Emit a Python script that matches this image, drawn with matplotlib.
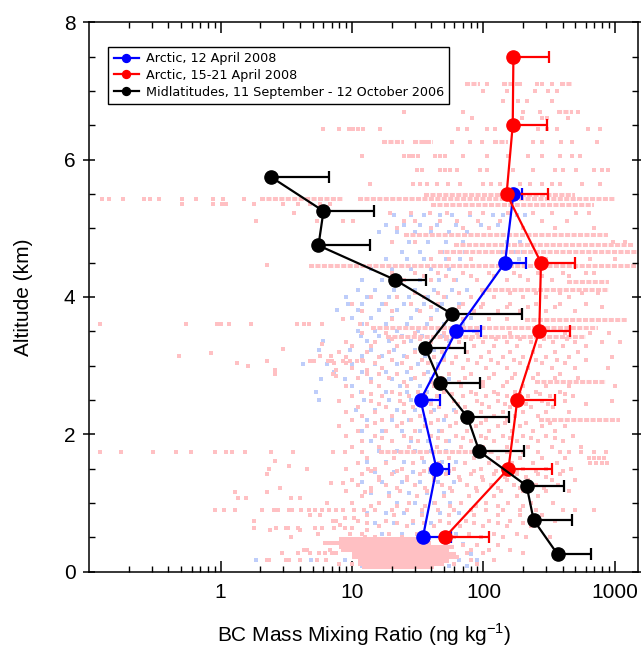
import numpy as np
import matplotlib
matplotlib.use("Agg")
import matplotlib.pyplot as plt
from matplotlib.ticker import LogLocator, NullFormatter, FixedLocator, MultipleLocator

# === Profile data =================================================
# Arctic, 12 April 2008
apr12_alt = [0.5, 1.5, 2.5, 3.5, 4.5, 5.5]
apr12_bc = [34.6, 43.9, 33.2, 62, 146, 169]
apr12_hi = [56.5, 55, 46.8, 96, 211, 196]

# Arctic, 15-21 April 2008
apr15_alt = [0.5, 1.5, 2.5, 3.5, 4.5, 5.5, 6.5, 7.5]
apr15_bc = [50.9, 155, 181, 266, 274, 150, 167, 169]
apr15_hi = [111, 332, 350, 455, 496, 310, 303, 315]

# Midlatitudes, 11 September - 12 October 2006
midlat_alt = [0.25, 0.75, 1.25, 1.75, 2.25, 2.75, 3.25, 3.75, 4.25, 4.75, 5.25, 5.75]
midlat_bc = [367, 241, 213, 93, 75.5, 46.8, 36.2, 57.8, 21.2, 5.55, 6.06, 2.4]
midlat_hi = [653, 473, 409, 202, 156, 94, 72.5, 195, 36.6, 13.8, 14.6, 6.68]

labels = ["Arctic, 12 April 2008",
          "Arctic, 15-21 April 2008",
          "Midlatitudes, 11 September - 12 October 2006"]

# === Background 1-s samples (pink = 15-21 April, blue = 12 April) ===
# constant-altitude legs that show up as dense streaks
leg_alt = [7.10, 7.10, 7.10, 6.70, 6.25, 6.25, 6.25, 5.49, 5.42, 5.42, 5.34,
           4.90, 4.75, 4.65, 4.45, 4.22, 4.10, 3.67, 3.55, 3.42, 2.76, 2.20,
           1.74, 0.48, 0.42, 0.36, 0.31, 0.26, 0.21, 0.16, 0.11, 0.06]
leg_lo = [72, 139, 380, 360, 17, 29, 118, 35, 2.0, 11, 40,
          25, 60, 45, 4.7, 430, 94, 208, 14, 18, 245, 265,
          16, 8, 6, 8, 9, 10, 10, 11, 11, 12]
leg_hi = [94, 165, 470, 480, 25, 41, 154, 500, 8.5, 1000, 700,
          880, 1400, 1500, 1450, 900, 900, 1240, 750, 600, 860, 1090,
          120, 35, 40, 60, 55, 62, 65, 55, 50, 42]

pink_rows = [
    (7.10, [106, 180, 190, 256, 280, 330]),
    (7.00, [99, 150, 245, 310, 360]),
    (6.85, [141, 184, 214, 330]),
    (6.70, [25, 70, 200, 270, 520]),
    (6.60, [82, 195, 280, 305, 440]),
    (6.45, [6.0, 7.9, 9.4, 10.2, 11.1, 12.2, 16.4, 64, 75, 106, 122, 260, 305, 360, 620, 770]),
    (6.25, [35, 58, 79, 98, 240, 280, 390, 470, 730]),
    (6.05, [12, 25, 27, 29, 32, 43, 47, 51, 70, 106, 154, 218, 280, 380, 475, 540]),
    (5.85, [31, 34, 47, 51, 56, 63, 94, 106, 168, 240, 350, 400, 510, 700, 800, 880]),
    (5.65, [13.8, 29, 33, 37, 44, 54, 66, 99, 115, 134, 190, 225, 280, 335, 380, 560, 770]),
    (5.42, [0.126, 0.141, 0.179, 0.26, 0.288, 0.338, 0.51, 0.646, 0.87, 1.05, 1.5]),
    (5.35, [0.51, 0.88, 1.02, 1.1, 1.78, 3.0, 3.85, 4.8, 5.75, 6.8]),
    (5.22, [3.6, 19.5, 28, 39, 53, 79, 99, 154, 240, 330, 510, 640]),
    (5.10, [1.85, 5.4, 8.6, 10.2, 25, 30, 47, 63, 91, 134, 280, 430]),
    (5.00, [22, 40, 70, 110, 200, 350, 700]),
    (4.80, [20, 30, 960, 1200]),
    (4.55, [40, 55, 80, 150, 300, 650, 1000]),
    (4.46, [2.24]),
    (4.35, [20, 30, 45, 70, 110, 170, 260, 400, 600, 700]),
    (4.30, [35, 52, 80, 120, 190, 280, 450]),
    (4.25, [25, 40, 60, 90, 150, 220, 330]),
    (4.05, [30, 45, 65, 100, 160, 250, 380, 560, 750]),
    (4.00, [14, 22, 35, 50, 80, 120, 200, 300, 450]),
    (3.90, [10, 18, 28, 45, 70, 100, 160, 250, 380, 600]),
    (3.85, [40, 65, 95, 150, 220, 350, 800]),
    (3.80, [12, 20, 33, 55, 85, 130, 190, 300, 500]),
    (3.68, [8.6, 20, 40, 70, 110, 150]),
    (3.60, [0.12, 0.54, 0.94, 1.0, 1.16, 1.69, 3.82, 4.27, 4.66, 5.9, 11.5, 13]),
    (3.48, [12, 18, 30, 50, 90, 160, 260, 420, 650, 900]),
    (3.38, [20, 33, 52, 80, 125, 190, 290, 430]),
    (3.35, [9, 15, 25, 40, 65, 100, 150, 230, 340, 500, 800, 1100]),
    (3.31, [5.9]),
    (3.28, [10, 14, 22, 35, 55, 85, 120, 180, 270, 400, 600]),
    (3.24, [3.0]),
    (3.20, [8, 13, 19, 30, 48, 75, 110, 160, 240, 350, 520]),
    (3.18, [0.85]),
    (3.14, [0.48, 5.75, 6.9]),
    (3.12, [9, 16, 26, 42, 62, 95, 140, 200, 300, 450, 950]),
    (3.08, [12, 20, 34, 50, 76, 115, 170, 250, 360, 600]),
    (3.06, [2.26, 4.8, 5.1, 6.6, 7.0, 8.6, 9.7, 10.9, 12.2]),
    (3.04, [1.34, 7.3, 9.0, 15, 24, 38, 58, 90, 130, 190, 280, 420]),
    (2.99, [1.62]),
    (2.96, [10, 17, 28, 45, 70, 105, 150, 220, 330, 500, 880]),
    (2.93, [2.6, 7.5, 13]),
    (2.88, [2.6, 7.1, 13, 16, 22, 35, 55, 80, 120, 175, 260, 380]),
    (2.85, [7.6]),
    (2.82, [11, 19, 30, 48, 72, 110, 165, 240, 350, 520]),
    (2.76, [14, 25, 40, 65, 100, 150]),
    (2.70, [9, 16, 26, 42, 68, 100, 140, 200, 300, 450, 1000]),
    (2.62, [12, 20, 32, 50, 80, 120, 175, 250, 380]),
    (2.58, [14, 23, 36, 58, 88, 130, 190, 270, 420]),
    (2.55, [10, 17, 27, 44, 70, 105, 150, 220, 320, 480]),
    (2.48, [8, 14, 23, 37, 60, 90, 130, 190, 280, 420, 950]),
    (2.44, [16, 25, 40, 64, 98, 145, 210, 310, 600]),
    (2.40, [11, 18, 29, 46, 72, 110, 160, 230, 340]),
    (2.33, [9, 15, 25, 40, 62, 95, 140, 200, 300, 450]),
    (2.26, [12, 20, 33, 52, 80, 120, 175, 260]),
    (2.20, [10, 17, 28, 45, 70, 105, 150]),
    (2.16, [15, 24, 40, 62, 95, 145, 210, 320]),
    (2.12, [8, 13, 22, 36, 56, 88, 130, 190, 280, 420]),
    (2.05, [11, 18, 30, 48, 75, 110, 165, 240, 350]),
    (1.98, [9, 15, 25, 40, 62, 95, 140, 200, 300, 480]),
    (1.94, [17, 28, 45, 70, 105, 160, 230, 350]),
    (1.90, [12, 20, 32, 52, 80, 120, 180, 260, 400]),
    (1.82, [10, 16, 27, 44, 68, 100, 150, 220, 330, 550]),
    (1.74, [0.121, 0.174, 0.308, 0.455, 0.59, 0.90, 1.09, 1.21, 1.53, 2.4, 3.54, 7.1, 8.9, 11.9,
            150, 200, 260, 380, 450, 550, 700, 850]),
    (1.66, [13, 21, 34, 55, 85, 130, 190, 280, 420, 640, 700, 760, 830]),
    (1.61, [2.58]),
    (1.58, [11, 18, 29, 46, 72, 110, 165, 240, 360, 650, 720, 800, 870]),
    (1.54, [3.34]),
    (1.50, [2.33, 4.55, 13.3, 9, 15, 24, 39, 60, 95, 140, 200, 300, 460]),
    (1.46, [14, 22, 35, 55, 85, 125, 180, 250, 400]),
    (1.42, [2.26, 12, 20, 33, 52, 80, 120, 180, 260, 380]),
    (1.38, [16, 26, 42, 65, 98, 145, 210, 300]),
    (1.34, [10, 16, 26, 42, 66, 100, 150, 220, 330, 500]),
    (1.29, [6.95, 8.6]),
    (1.26, [11, 18, 30, 48, 75, 115, 170, 250, 370]),
    (1.22, [2.82, 14, 22, 36, 56, 88, 130, 190, 290]),
    (1.16, [1.28, 2.26, 12.6]),
    (1.18, [9, 14, 23, 37, 58, 90, 135, 200, 300, 450]),
    (1.07, [1.35, 1.57, 3.4, 4.0]),
    (1.10, [12, 19, 31, 50, 78, 120, 180, 260]),
    (1.00, [6.45, 10, 16, 27, 43, 68, 105, 155, 230, 340]),
    (0.96, [14, 22, 36, 56, 88, 130, 200]),
    (0.90, [0.90, 1.06, 1.28, 2.05, 2.54, 2.72, 3.30, 3.50, 4.1, 4.7, 5.2, 5.9, 6.7, 7.5, 8.6,
            10.3, 12.3, 15, 20, 26, 34, 45, 60, 80, 105, 140, 190, 250, 400, 500, 700]),
    (0.82, [4.8, 5.75, 13, 21, 34, 55, 85, 130, 190, 280]),
    (0.78, [8.9, 10.3]),
    (0.74, [1.79, 7.2, 7.6, 11, 18, 29, 47, 73, 110, 160, 240, 350]),
    (0.70, [13, 22, 35, 55, 85, 130, 200]),
    (0.68, [8.1]),
    (0.64, [1.79, 2.65, 3.14, 3.24, 3.86, 5.2, 5.9, 7.3, 8.8, 10]),
    (0.60, [2.36, 4.0, 13.1]),
    (0.66, [16, 26, 42, 66, 100, 150, 230]),
    (0.55, [5.5, 9.7, 12, 19, 31, 50, 78, 120, 180]),
    (0.50, [3.45, 12.6, 15, 24, 38, 60, 95, 140, 210, 320]),
    (0.38, [13, 70, 90, 130]),
    (0.32, [4.3, 4.55, 6.85, 8.5, 9.2, 10.3, 80, 110, 160]),
    (0.27, [2.94, 3.87, 4.75, 5.6, 6.2, 7.0, 7.6, 11.5, 75, 100, 200]),
    (0.17, [2.26, 2.33, 3.12, 3.3, 4.05, 5.4, 6.3, 80, 120]),
    (0.11, [8.0, 10, 60, 90]),
]

blue_rows = [
    (5.20, [21, 28, 35, 47, 58, 79, 118, 141, 180, 206]),
    (5.05, [18, 25, 33, 44, 62, 95, 130]),
    (4.95, [16, 22, 30, 40, 55, 75]),
    (4.80, [20, 27, 38, 52, 70, 150, 190]),
    (4.65, [24, 33, 48, 60, 72, 140, 170, 200]),
    (4.55, [18, 26, 35, 52, 66, 150, 185]),
    (4.40, [14, 20, 28, 40, 55]),
    (4.25, [12, 17, 24, 33, 46, 62]),
    (4.10, [11, 15, 21, 30, 42, 58, 75]),
    (4.00, [9, 13, 19, 27, 38, 52]),
    (3.90, [9.3, 12, 17, 25, 35, 48, 65]),
    (3.81, [7.7, 11, 16, 22, 31, 44]),
    (3.70, [10, 14, 20, 28, 40, 55, 80]),
    (3.60, [12, 18, 26, 37, 50, 70]),
    (3.50, [11, 15, 22, 32, 45, 60, 85]),
    (3.43, [11.7, 16, 24, 34, 48]),
    (3.36, [6.0, 13, 19, 28, 40, 55]),
    (3.23, [5.6, 9.6, 14, 21, 30, 42]),
    (3.14, [6.95, 12, 17, 25, 36, 50]),
    (3.02, [4.25, 6.4, 10, 15, 22, 32, 45]),
    (2.90, [7.3, 12, 18, 26, 38]),
    (2.80, [5.8, 8.8, 14, 20, 28, 40, 55]),
    (2.70, [10, 16, 23, 33, 47]),
    (2.62, [5.3, 11.7, 18, 26, 37]),
    (2.50, [5.6, 12.3, 19, 28, 40]),
    (2.36, [10.7, 15, 22, 30, 42, 60]),
    (2.20, [13, 20, 27, 36, 50]),
    (2.05, [12, 17, 24, 33, 46]),
    (1.90, [14, 20, 28, 38, 55]),
    (1.75, [16, 22, 30, 40, 52]),
    (1.60, [13, 18, 25, 35, 48, 62]),
    (1.45, [15, 21, 29, 39, 53]),
    (1.30, [12, 17, 24, 33, 45, 60]),
    (1.15, [14, 19, 27, 37, 50]),
    (1.00, [16, 22, 30, 42, 56]),
    (0.85, [13, 18, 25, 34, 47, 65]),
    (0.70, [15, 21, 29, 40, 55]),
    (0.55, [12, 17, 24, 33, 48, 62]),
    (0.40, [14, 20, 28, 38, 52, 70]),
    (0.25, [11, 16, 23, 32, 45, 60, 80]),
    (0.17, [1.87, 4.85, 8.8, 50, 65, 90]),
    (0.08, [12, 20, 35, 55, 75]),
]

pink = "#FFC0C3"
light_blue = "#BECDFA"


def flatten(rows):
    xs = [x for alt, row in rows for x in row]
    ys = [alt for alt, row in rows for x in row]
    return xs, ys


fig = plt.figure(figsize=(6.41, 6.48), dpi=100)
ax = fig.add_axes([0.1393, 0.118, 0.8560, 0.8476])

# background samples: blue under pink
bx, by = flatten(blue_rows)
ax.scatter(bx, by, marker="s", s=9, c=light_blue, linewidths=0, zorder=1)
px, py = flatten(pink_rows)
# legs drawn as a run of touching squares; the boundary-layer blob is solid
leg_styles = ["solid" if a < 0.5 else (0, (1.25, 0.35)) for a in leg_alt]
ax.hlines(leg_alt, leg_lo, leg_hi, colors=pink, lw=2.9, zorder=1.5,
          linestyles=leg_styles)
ax.scatter(px, py, marker="s", s=9, c=pink, linewidths=0, zorder=1.6)

# profiles with one-sided (positive) error bars
series = [(apr12_bc, apr12_alt, apr12_hi, "#0000FF"),
          (apr15_bc, apr15_alt, apr15_hi, "#FF0000"),
          (midlat_bc, midlat_alt, midlat_hi, "black")]
for (x, y, hi, col), lab in zip(series, labels):
    x = np.array(x)
    err = np.array(hi) - x
    ax.errorbar(x, y, xerr=[np.zeros_like(x), err], fmt="none", ecolor=col,
                elinewidth=1.6, capsize=4, capthick=1.6, zorder=3)
    ax.plot(x, y, "-o", color=col, lw=1.6, ms=9.5, label=lab, zorder=4)

ax.set_xscale("log")
ax.set_xlim(0.1, 1500)
ax.set_ylim(0, 8)

ax.xaxis.set_major_locator(FixedLocator([1, 10, 100, 1000]))
ax.set_xticklabels(["1", "10", "100", "1000"])
ax.xaxis.set_minor_locator(LogLocator(base=10, subs=np.arange(2, 10)))
ax.xaxis.set_minor_formatter(NullFormatter())
ax.yaxis.set_major_locator(MultipleLocator(2))
ax.yaxis.set_minor_locator(MultipleLocator(0.5))

tick_font = {"family": "Liberation Sans", "size": 15}
for lab in ax.get_xticklabels() + ax.get_yticklabels():
    lab.set_fontfamily("Liberation Sans")
    lab.set_fontsize(15)

ax.tick_params(which="major", direction="inout", length=8, width=1.1,
               top=True, right=True, pad=6)
ax.tick_params(which="minor", direction="in", length=4, width=1.0,
               top=True, right=True)
ax.tick_params(axis="x", which="major", direction="in", length=8, pad=8)
for sp in ax.spines.values():
    sp.set_linewidth(1.1)

ax.set_xlabel(r"BC Mass Mixing Ratio (ng kg$^{\mathregular{-1}}$)", fontdict=tick_font, labelpad=14)
ax.set_ylabel("Altitude (km)", fontdict=tick_font, labelpad=22)

leg = ax.legend(loc="upper left", bbox_to_anchor=(0.035, 0.955), borderaxespad=0,
                fancybox=False, edgecolor="black", framealpha=1,
                prop={"family": "DejaVu Sans", "size": 9.2},
                handlelength=2.0, handletextpad=0.5, labelspacing=0.3,
                borderpad=0.4, markerscale=0.6)
leg.get_frame().set_linewidth(1.0)

fig.savefig("out.png", dpi=100)
